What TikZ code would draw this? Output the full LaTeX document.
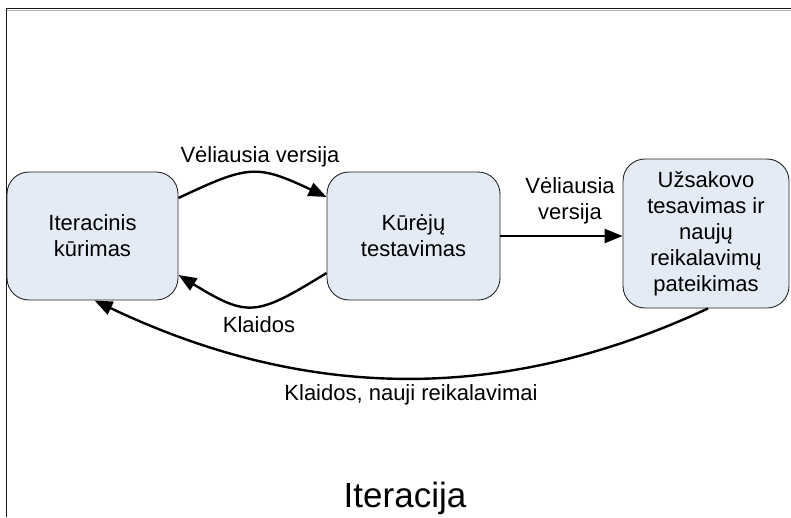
\documentclass[tikz,border=0pt]{standalone}
\usepackage{fontspec}
\setmainfont{Liberation Sans}
\usetikzlibrary{arrows.meta,calc}
\definecolor{boxfill}{RGB}{229,235,245}
\begin{document}
\begin{tikzpicture}[x=1pt,y=-1pt,
  stagebox/.style={draw=black!85, line width=0.9pt, fill=boxfill, rounded corners=22pt,
    align=center, inner sep=0pt, font=\fontsize{22}{26}\selectfont},
  flow/.style={line width=2.4pt, -{Triangle[length=18pt,width=14pt]}},
  lbl/.style={font=\fontsize{22}{26}\selectfont, inner sep=0pt, align=center}]
\useasboundingbox (0,0) rectangle (791,517);
% frame edges
\draw[black!30, line width=0.8pt] (7,9.9) -- (791,9.9);
\draw[black!90, line width=1.4pt] (6.3,517) -- (6.3,8.3) -- (791,8.3);

% stages
\node[stagebox, minimum width=171pt, minimum height=128pt] (dev) at (92.5,236) {Iteracinis\\kūrimas};
\node[stagebox, minimum width=173pt, minimum height=128pt] (test) at (413.5,236) {Kūrėjų\\testavimas};
\node[stagebox, minimum width=166pt, minimum height=149pt] (cust) at (706,233.5)
  {Užsakovo\\tesavimas ir\\naujų\\reikalavimų\\pateikimas};

% connectors
\draw[flow] ($(dev.east)+(0,-38)$) .. controls +(70,-33) and +(-70,-33) .. ($(test.west)+(0,-39)$);
\draw[flow] ($(test.west)+(0,37)$) .. controls +(-70,43) and +(70,43) .. ($(dev.east)+(0,39)$);
\draw[flow] (test.east) -- (test.east -| cust.west);
\draw[flow] ($(cust.south)+(2,0)$) .. controls +(-208,97) and +(208,99) .. ($(dev.south)+(2,0)$);

% labels
\node[lbl, anchor=base] (l1) at (260,162) {Vėliausia versija};
\node[lbl, anchor=base] (l2) at (259,332) {Klaidos};
\node[lbl] (l3) at (570,201) {Vėliausia\\versija};
\node[lbl, anchor=base] (l4) at (411,400) {Klaidos, nauji reikalavimai};
\node[font=\fontsize{35}{40}\selectfont, inner sep=0pt, anchor=base] (title) at (405,507) {Iteracija};
\end{tikzpicture}
\end{document}
